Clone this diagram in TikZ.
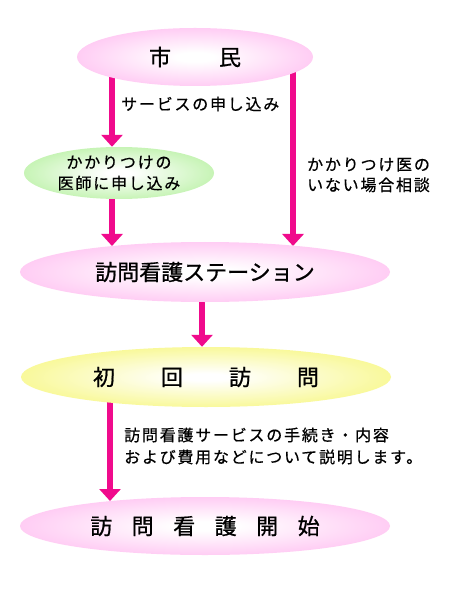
\documentclass[tikz,border=0pt]{standalone}
\usepackage{fontspec}
\usetikzlibrary{arrows.meta,shapes.geometric,backgrounds}
\newfontfamily\jp[FakeBold=0.8]{Noto Sans CJK JP}
\newfontfamily\jpls[LetterSpace=11,FakeBold=0.6]{Noto Sans CJK JP}
\definecolor{pinkedge}{RGB}{255,150,232}
\definecolor{greenedge}{RGB}{140,232,105}
\definecolor{yellowedge}{RGB}{242,242,50}
\definecolor{arrowmag}{RGB}{240,10,140}
\pgfdeclareradialshading{pinkshade}{\pgfpoint{0bp}{0bp}}{color(0bp)=(white); color(4bp)=(white); color(48bp)=(pinkedge); color(50bp)=(pinkedge)}
\pgfdeclareradialshading{greenshade}{\pgfpoint{0bp}{0bp}}{color(0bp)=(white); color(3bp)=(white); color(48bp)=(greenedge); color(50bp)=(greenedge)}
\pgfdeclareradialshading{yellowshade}{\pgfpoint{0bp}{0bp}}{color(0bp)=(white); color(3bp)=(white); color(48bp)=(yellowedge); color(50bp)=(yellowedge)}
\tikzset{
  ell/.style={ellipse, inner sep=0pt, draw=none},
  bigtext/.style={font=\jp\fontsize{22}{26}\selectfont},
  smalltext/.style={font=\jpls\fontsize{16}{21}\selectfont, inner sep=0pt, align=left},
  arr/.style={line width=6pt, draw=arrowmag, -{Triangle[width=21pt,length=12pt]}}
}
\begin{document}
\begin{tikzpicture}[x=1pt,y=-1pt]
\useasboundingbox (0,0) rectangle (450,593);
% ellipses
\node[ell, shading=pinkshade, minimum width=236pt, minimum height=58pt, bigtext] (shimin) at (195,57) {市\hspace{48pt}民};
\node[ell, shading=greenshade, minimum width=190pt, minimum height=52pt, smalltext, align=center] (green) at (119,173) {かかりつけの\\医師に申し込み};
\node[ell, shading=pinkshade, minimum width=370pt, minimum height=60pt, bigtext] (station) at (205,272) {訪問看護ステーション};
\node[ell, shading=yellowshade, minimum width=370pt, minimum height=60pt, bigtext] (first) at (206,377) {初\hspace{46pt}回\hspace{46pt}訪\hspace{46pt}問};
\node[ell, shading=pinkshade, minimum width=370pt, minimum height=58pt, bigtext] (start) at (205,526) {訪\hspace{19.5pt}問\hspace{19.5pt}看\hspace{19.5pt}護\hspace{19.5pt}開\hspace{19.5pt}始};
% labels
\node[smalltext, anchor=west] (lab1) at (121,104) {サービスの申し込み};
\node[smalltext, anchor=west, font=\jpls\fontsize{16}{20.5}\selectfont] (lab2) at (307,175) {かかりつけ医の\\いない場合相談};
\node[smalltext, anchor=west, font=\jpls\fontsize{16}{22}\selectfont] (lab3) at (124,446) {訪問看護サービスの手続き・内容\\および費用などについて説明します。};
% helper coordinates
\coordinate (x112) at (112,0);
\coordinate (x293) at (293,0);
\coordinate (x202) at (202,0);
\coordinate (x110) at (110,0);
\coordinate (t2) at (293,246);
\coordinate (t3) at (112,246);
\coordinate (t5) at (110,501);
\begin{pgfonlayer}{background}
\fill[white] (0,0) rectangle (450,593);
\draw[arr] (shimin.center -| x112) -- (green.north -| x112);
\draw[arr] (shimin.center -| x293) -- (t2);
\draw[arr] (green.center -| x112) -- (t3);
\draw[arr] (station.center -| x202) -- (first.north -| x202);
\draw[arr] (first.center -| x110) -- (t5);
\end{pgfonlayer}
\end{tikzpicture}
\end{document}
